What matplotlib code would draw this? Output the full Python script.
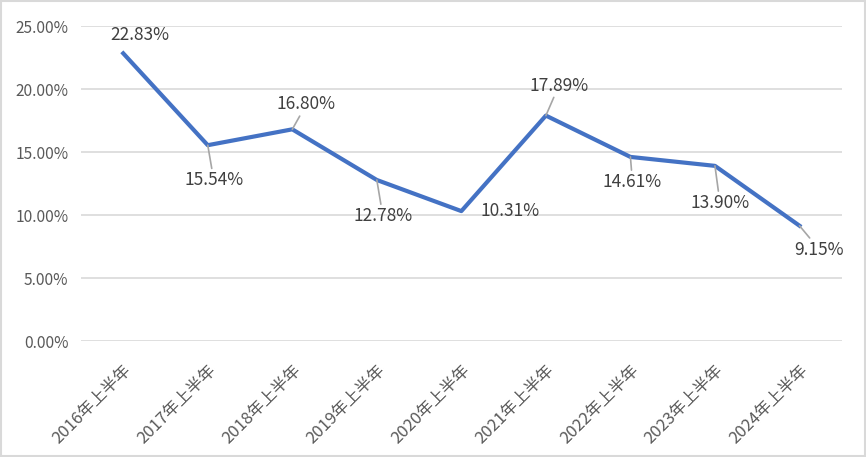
import matplotlib.pyplot as plt
from matplotlib.patches import Rectangle
from matplotlib.ticker import FuncFormatter

plt.rcParams['font.family'] = ['Noto Sans CJK SC', 'DejaVu Sans']

periods = ['2016年上半年', '2017年上半年', '2018年上半年', '2019年上半年', '2020年上半年',
           '2021年上半年', '2022年上半年', '2023年上半年', '2024年上半年']
rates = [22.83, 15.54, 16.80, 12.78, 10.31, 17.89, 14.61, 13.90, 9.15]

# label offsets (pixels) and whether a leader line is drawn
label_dx = [17, 6, 14, 6, 49, 13, 2, 5, 20]
label_dy = [18, -35, 25, -36, 0, 30, -25, -37, -24]
leader = [False, True, True, True, False, True, True, True, True]

fig = plt.figure(figsize=(8.66, 4.57), dpi=100)
ax = fig.add_axes([0.0935, 0.2538, 0.8785, 0.6893])

x = list(range(len(periods)))
ax.plot(x, rates, color='#4472C4', lw=3, solid_joinstyle='round', zorder=3)

for i, v in enumerate(rates):
    arrow = dict(arrowstyle='-', color='#A6A6A6', lw=1.2, shrinkA=0, shrinkB=0) if leader[i] else None
    ax.annotate(f'{v:.2f}%', (i, v), xytext=(label_dx[i], label_dy[i]),
                textcoords='offset pixels', ha='center', va='center',
                fontsize=12.5, color='#404040', arrowprops=arrow, zorder=4)

ax.set_xlim(-0.5, len(periods) - 0.5)
ax.set_ylim(0, 25)
ax.set_yticks([0, 5, 10, 15, 20, 25])
ax.yaxis.set_major_formatter(FuncFormatter(lambda v, p: f'{v:.2f}%'))
ax.set_xticks(x)
ax.set_xticklabels(periods, rotation=45, ha='right', va='top', rotation_mode='anchor')
ax.tick_params(axis='x', length=0, pad=15, labelsize=12, colors='#595959')
ax.tick_params(axis='y', length=0, pad=9, labelsize=11.2, colors='#595959')
ax.grid(axis='y', color='#D9D9D9', lw=1.2)
ax.set_axisbelow(True)
for s in ax.spines.values():
    s.set_visible(False)

fig.patches.append(Rectangle((0.001, 0.002), 0.998, 0.996, transform=fig.transFigure,
                             fill=False, edgecolor='#D9D9D9', lw=1.5))

fig.savefig('out.png', dpi=100)
